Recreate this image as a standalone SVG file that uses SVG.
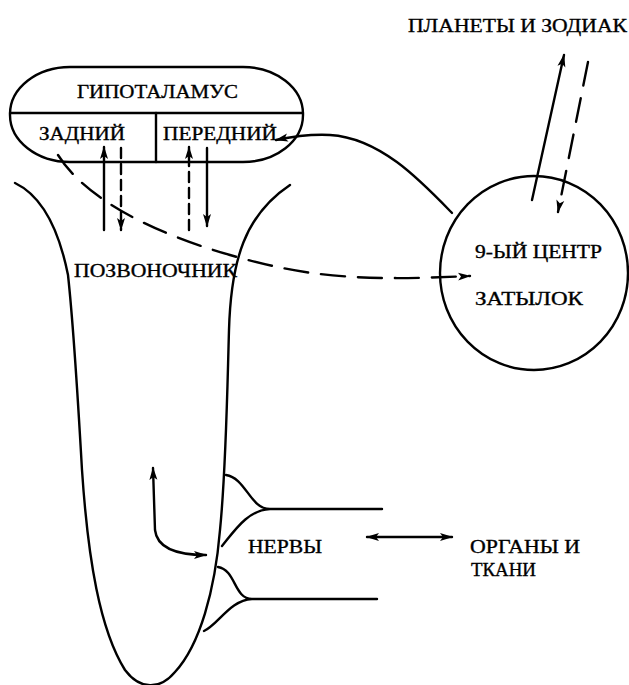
<svg xmlns="http://www.w3.org/2000/svg" width="629" height="685" viewBox="0 0 629 685">
<style>
.ln{fill:none;stroke:#000;stroke-width:2.4;stroke-linecap:round;stroke-linejoin:round}
.dl{stroke-dasharray:24 13}
.ds{stroke-dasharray:10 6}
.t{font-family:"Liberation Serif","DejaVu Serif","Times New Roman",serif;font-size:19px;fill:#000;stroke:#000;stroke-width:0.35}
</style>
<defs>
<marker id="ah" markerUnits="userSpaceOnUse" markerWidth="14" markerHeight="10" refX="12" refY="4" orient="auto-start-reverse" viewBox="0 0 14 8">
<path d="M0,0 L13,4 L0,8 L3,4 z" fill="#000"/>
</marker>
</defs>
<rect width="629" height="685" fill="#fff"/>
<g id="hypothalamus">
<rect class="ln" x="10" y="67" width="293" height="95" rx="60" ry="47"/>
<line class="ln" x1="10" y1="113" x2="303" y2="113"/>
<line class="ln" x1="156" y1="113" x2="156" y2="162"/>
<text class="t" x="77" y="98" textLength="161" lengthAdjust="spacingAndGlyphs">ГИПОТАЛАМУС</text>
<text class="t" x="39" y="140" textLength="86" lengthAdjust="spacingAndGlyphs">ЗАДНИЙ</text>
<text class="t" x="163" y="140" textLength="114" lengthAdjust="spacingAndGlyphs">ПЕРЕДНИЙ</text>
</g>
<g id="spine">
<path class="ln" d="M15,183 C40,195 58,225 68,275 C74,330 78,400 82,470 C88,560 100,630 125,670 C140,690 160,690 175,672 C200,645 215,590 220,530 C226,470 227,400 229,330 C231,260 245,215 290,185"/>
<text class="t" x="74" y="277" textLength="163" lengthAdjust="spacingAndGlyphs">ПОЗВОНОЧНИК</text>
</g>
<g id="center9">
<ellipse class="ln" cx="534" cy="273" rx="94" ry="97"/>
<text class="t" x="475" y="258" textLength="127" lengthAdjust="spacingAndGlyphs">9-ЫЙ ЦЕНТР</text>
<text class="t" x="475" y="305" textLength="108" lengthAdjust="spacingAndGlyphs">ЗАТЫЛОК</text>
</g>
<g id="planets">
<text class="t" x="408" y="32" textLength="219" lengthAdjust="spacingAndGlyphs">ПЛАНЕТЫ И ЗОДИАК</text>
</g>
<g id="nerves">
<path class="ln" d="M226,475 C246,478 250,509 270,509 L382,509 M270,509 C248,510 235,530 222,546"/>
<path class="ln" d="M218,567 C236,570 234,599 252,599 L377,599 M252,599 C230,600 218,625 204,631"/>
<text class="t" x="248" y="553" textLength="74" lengthAdjust="spacingAndGlyphs">НЕРВЫ</text>
</g>
<g id="organs">
<text class="t" x="470" y="553" textLength="110" lengthAdjust="spacingAndGlyphs">ОРГАНЫ И</text>
<text class="t" x="471" y="576" textLength="65" lengthAdjust="spacingAndGlyphs">ТКАНИ</text>
</g>
<g id="connectors">
<line class="ln" x1="104" y1="230" x2="104" y2="147" marker-end="url(#ah)"/>
<line class="ln ds" x1="121" y1="148" x2="121" y2="230" marker-end="url(#ah)"/>
<line class="ln ds" x1="189" y1="230" x2="189" y2="147" marker-end="url(#ah)"/>
<line class="ln" x1="207" y1="148" x2="207" y2="226" marker-end="url(#ah)"/>
<path class="ln dl" d="M58,155 C85,198 150,232 230,255 C300,275 350,282 470,276" marker-end="url(#ah)"/>
<path class="ln" d="M452,213 C420,180 380,138 330,135 C310,134 295,136 276,140" marker-end="url(#ah)"/>
<line class="ln" x1="532" y1="200" x2="564" y2="55" marker-end="url(#ah)"/>
<line class="ln dl" x1="588" y1="62" x2="558" y2="212" marker-end="url(#ah)"/>
<path class="ln" d="M153,468 L155,530 C157,548 175,555 206,555" marker-start="url(#ah)" marker-end="url(#ah)"/>
<line class="ln" x1="367" y1="537" x2="452" y2="537" marker-start="url(#ah)" marker-end="url(#ah)"/>
</g>
</svg>
